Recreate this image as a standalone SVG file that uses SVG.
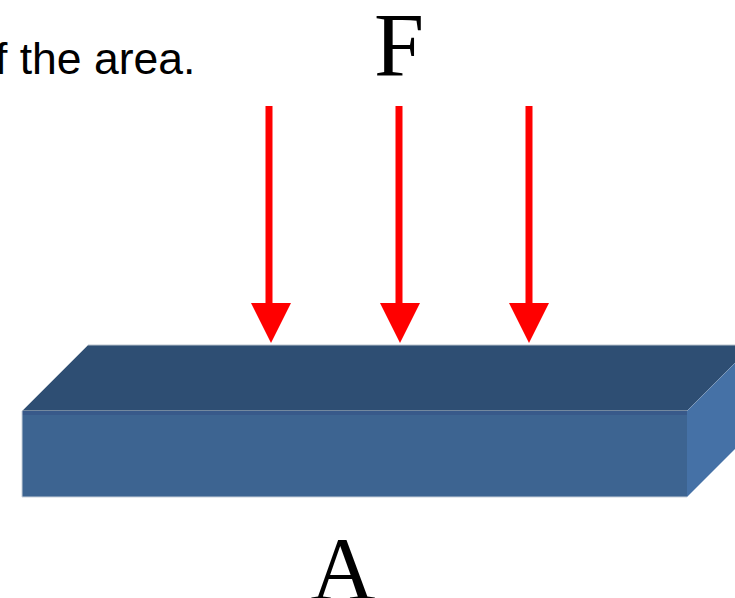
<svg xmlns="http://www.w3.org/2000/svg" width="735" height="598" viewBox="0 0 735 598">
<style>
.sans{font-family:"Liberation Sans",Arial,sans-serif;font-size:44.5px;fill:#000}
.serif{font-family:"Liberation Serif","Times New Roman",serif;font-size:90px;fill:#000}
.shaft{stroke:#ff0000;stroke-width:7;fill:none}
.head{fill:#ff0000}
</style>
<rect width="735" height="598" fill="#ffffff"/>
<text class="sans" x="-5" y="74">f the area.</text>
<text class="serif" x="374" y="76">F</text>
<g id="block">
<polygon points="22,411 88,345 753,345 687,411" fill="#2e4e73" stroke="#b8c2cc" stroke-width="1"/>
<polygon points="687,411 753,345 753,431 687,497" fill="#4571a6"/>
<rect x="22" y="411" width="665" height="86" fill="#3d6491"/>
<rect x="22" y="411" width="665" height="4" fill="#38598a"/>
<path d="M22 411 V497 H687" fill="none" stroke="#c8d0da" stroke-width="1"/>
</g>
<g id="arrows">
<line class="shaft" x1="269" y1="106" x2="269" y2="305"/>
<polygon class="head" points="251,303 291,303 271,343"/>
<line class="shaft" x1="399" y1="106" x2="399" y2="305"/>
<polygon class="head" points="380,303 420,303 400,343"/>
<line class="shaft" x1="529" y1="106" x2="529" y2="305"/>
<polygon class="head" points="509,303 549,303 529,343"/>
</g>
<text class="serif" x="343" y="600" text-anchor="middle">A</text>
</svg>
